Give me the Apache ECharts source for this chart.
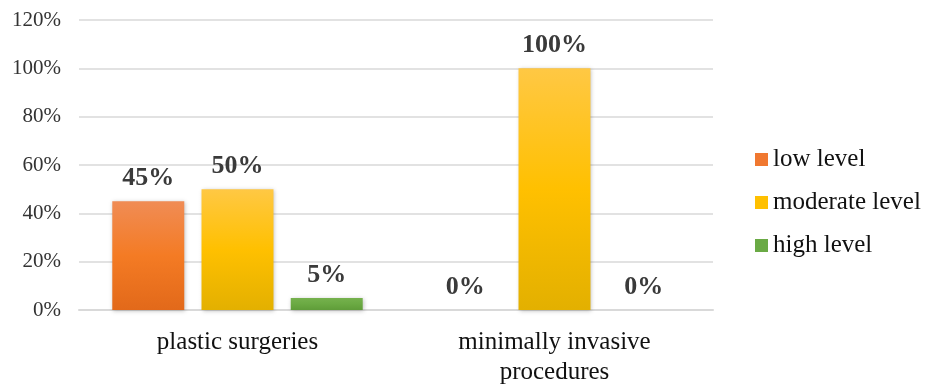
<!DOCTYPE html>
<html>
<head>
<meta charset="utf-8">
<script src="https://cdn.jsdelivr.net/npm/echarts@6/dist/echarts.min.js"></script>
<style>
  html, body { margin: 0; padding: 0; background: #fff; }
  #chart { width: 929px; height: 387px; }
</style>
</head>
<body>
<div id="chart"></div>
<script>
// Procedure types on the category axis
const categories = ['plastic surgeries', 'minimally invasive\nprocedures'];
// Share of respondents per level (percent)
const lowLevel = [45, 0];
const moderateLevel = [50, 100];
const highLevel = [5, 0];
// Value axis range and step (percent)
const yMin = 0;
const yMax = 120;
const yStep = 20;

const serif = '"Liberation Serif", "Times New Roman", serif';

function vgrad(top, mid, bottom) {
  return new echarts.graphic.LinearGradient(0, 0, 0, 1, [
    { offset: 0, color: top },
    { offset: 0.5, color: mid },
    { offset: 1, color: bottom }
  ]);
}

const labelStyle = {
  show: true,
  position: 'top',
  distance: 10,
  formatter: '{c}%',
  fontFamily: serif,
  fontWeight: 'bold',
  fontSize: 26,
  color: '#3a3a3a'
};

const shadow = {
  shadowBlur: 4,
  shadowColor: 'rgba(0,0,0,0.25)',
  shadowOffsetX: 1,
  shadowOffsetY: 1
};

function makeSeries(name, data, fill) {
  return {
    name: name,
    type: 'bar',
    data: data,
    barWidth: '22.7%',
    barGap: '24%',
    itemStyle: Object.assign({ color: fill }, shadow),
    label: labelStyle
  };
}

const chart = echarts.init(document.getElementById('chart'), null, { renderer: 'canvas' });

chart.setOption({
  backgroundColor: '#ffffff',
  animation: false,
  grid: { left: 79, right: 216, top: 20, bottom: 76 },
  legend: {
    orient: 'vertical',
    left: 750,
    top: 142,
    itemWidth: 13,
    itemHeight: 13,
    itemGap: 18,
    icon: 'rect',
    textStyle: { fontFamily: serif, fontSize: 25, color: '#111111', lineHeight: 25 },
    data: [
      { name: 'low level', itemStyle: { color: '#F07830' } },
      { name: 'moderate level', itemStyle: { color: '#FFC000' } },
      { name: 'high level', itemStyle: { color: '#6AAA45' } }
    ]
  },
  xAxis: {
    type: 'category',
    data: categories,
    axisTick: { show: false },
    axisLine: { lineStyle: { color: '#d9d9d9', width: 2 } },
    axisLabel: {
      fontFamily: serif,
      fontSize: 25,
      lineHeight: 30,
      color: '#111111',
      margin: 17
    }
  },
  yAxis: {
    type: 'value',
    min: yMin,
    max: yMax,
    interval: yStep,
    axisLine: { show: false },
    axisTick: { show: false },
    splitLine: { lineStyle: { color: '#d9d9d9', width: 1.5 } },
    axisLabel: {
      formatter: '{value}%',
      fontFamily: serif,
      fontSize: 21,
      color: '#333333',
      margin: 18
    }
  },
  series: [
    makeSeries('low level', lowLevel, vgrad('#F08C55', '#F47B24', '#E2691A')),
    makeSeries('moderate level', moderateLevel, vgrad('#FFC844', '#FFC000', '#E3B000')),
    makeSeries('high level', highLevel, vgrad('#76B14E', '#6BAA43', '#5F9C39'))
  ]
});
</script>
</body>
</html>
